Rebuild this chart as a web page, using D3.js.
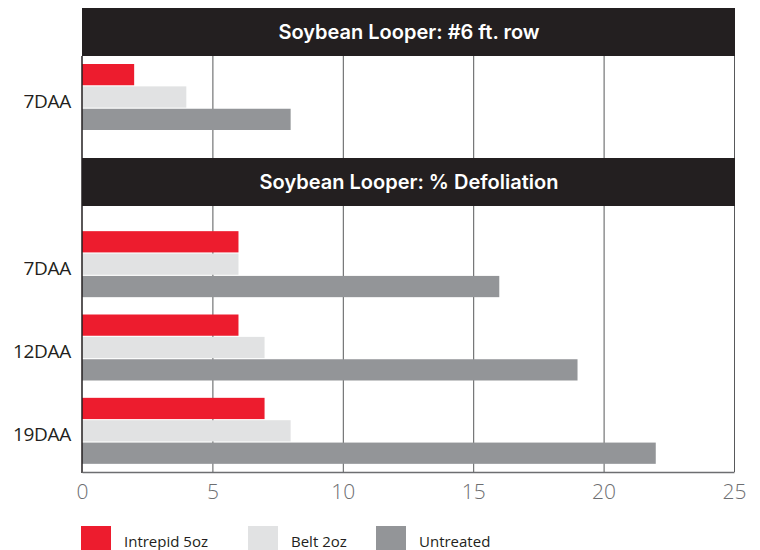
<!DOCTYPE html>
<html lang="en">
<head>
<meta charset="utf-8">
<style>
  body { margin: 0; background: #fff; }
  .tick text { font-family: "Open Sans", sans-serif; }
</style>
</head>
<body>
<svg width="760" height="550"></svg>
<script src="https://d3js.org/d3.v7.min.js"></script>
<script>
// data
var series = ["Intrepid 5oz", "Belt 2oz", "Untreated"];
var colors = ["#ed1c2e", "#e1e2e3", "#939598"];
var xTicks = [0, 5, 10, 15, 20, 25];

var panel1Title = "Soybean Looper: #6 ft. row";
var panel1Cats = ["7DAA"];
var panel1Vals = [[2, 4, 8]];

var panel2Title = "Soybean Looper: % Defoliation";
var panel2Cats = ["7DAA", "12DAA", "19DAA"];
var panel2Vals = [[6, 6, 16], [6, 7, 19], [7, 8, 22]];

var svg = d3.select("svg");
var left = 82, right = 734;

var x = d3.scaleLinear().domain([0, 25]).range([left, right]);

// grid lines
svg.append("g")
  .selectAll("line")
  .data(xTicks.slice(1))
  .enter().append("line")
    .attr("x1", function(d) { return x(d) + 0.5; })
    .attr("x2", function(d) { return x(d) + 0.5; })
    .attr("y1", 8)
    .attr("y2", 472)
    .attr("stroke", "#58595b")
    .attr("stroke-width", 1);

var inner = d3.scaleBand().domain(series).range([0, 66]).paddingInner(0.05);

function drawPanel(cats, vals, y) {
  var g = svg.append("g");
  var groups = g.selectAll("g")
    .data(cats)
    .enter().append("g")
      .attr("transform", function(d) { return "translate(0," + y(d) + ")"; });
  groups.selectAll("rect")
    .data(function(d, i) { return vals[i].map(function(v, j) { return {key: series[j], value: v, c: colors[j]}; }); })
    .enter().append("rect")
      .attr("x", x(0))
      .attr("y", function(d) { return inner(d.key); })
      .attr("width", function(d) { return x(d.value) - x(0); })
      .attr("height", inner.bandwidth())
      .attr("fill", function(d) { return d.c; });
  groups.append("text")
    .attr("x", 71)
    .attr("y", y.bandwidth() / 2 + 11)
    .attr("text-anchor", "end")
    .attr("font-family", "Open Sans, sans-serif")
    .attr("font-size", 19)
    .attr("letter-spacing", -0.3)
    .attr("fill", "#231f20")
    .text(function(d) { return d; });
}

var y1 = d3.scaleBand().domain(panel1Cats).range([64, 130]);
var y2 = d3.scaleBand().domain(panel2Cats).range([222, 472]).paddingInner(0.22).paddingOuter(0.11);

drawPanel(panel1Cats, panel1Vals, y1);
drawPanel(panel2Cats, panel2Vals, y2);

// headers
function header(title, top, bottom) {
  svg.append("rect")
    .attr("x", left)
    .attr("y", top)
    .attr("width", right - left + 1)
    .attr("height", bottom - top)
    .attr("fill", "#231f20");
  svg.append("text")
    .attr("x", (left + right) / 2 + 1)
    .attr("y", (top + bottom) / 2 + 7)
    .attr("text-anchor", "middle")
    .attr("font-family", "Inter, sans-serif")
    .attr("font-weight", 600)
    .attr("font-size", 20)
    .attr("fill", "#fff")
    .text(title);
}
header(panel1Title, 8, 56);
header(panel2Title, 158, 206);

// left axis line
svg.append("line")
  .attr("x1", left).attr("x2", left)
  .attr("y1", 56).attr("y2", 473)
  .attr("stroke", "#231f20").attr("stroke-width", 1.5);

// bottom axis
var xAxis = svg.append("g")
  .attr("transform", "translate(0,472)")
  .call(d3.axisBottom(x).tickValues(xTicks).tickSize(0).tickPadding(12));
xAxis.select(".domain").attr("stroke", "#6d6e71").attr("stroke-width", 1.5);
xAxis.selectAll("text")
  .attr("font-size", 21)
  .attr("font-weight", 300)
  .attr("fill", "#6d6e71");

// legend
var legX = [81, 248, 376];
var legend = svg.append("g")
  .selectAll("g")
  .data(series)
  .enter().append("g")
    .attr("transform", function(d, i) { return "translate(" + legX[i] + ",526)"; });
legend.append("rect")
  .attr("width", 30)
  .attr("height", 30)
  .attr("fill", function(d, i) { return colors[i]; });
legend.append("text")
  .attr("x", 43)
  .attr("y", 21)
  .attr("font-family", "Open Sans, sans-serif")
  .attr("font-size", 15)
  .attr("fill", "#231f20")
  .text(function(d) { return d; });
</script>
</body>
</html>
